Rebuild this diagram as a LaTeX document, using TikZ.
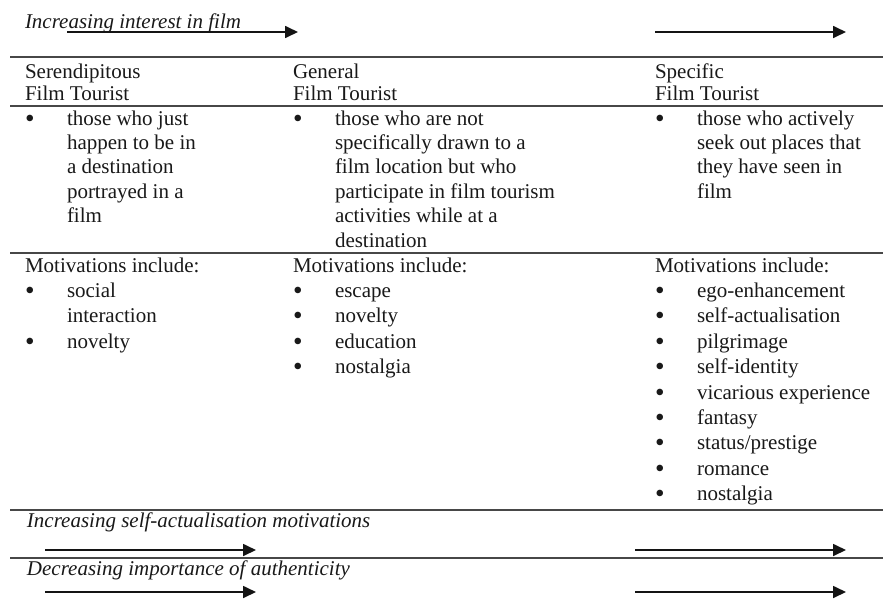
\documentclass[tikz,border=0pt]{standalone}
\usepackage{fontspec}
\usepackage{graphicx}
\setmainfont{Liberation Serif}
\usetikzlibrary{arrows.meta}
\newcommand\bul{\raisebox{-0.1em}{\scalebox{1.3}{\textbullet}}}
\begin{document}
\begin{tikzpicture}[x=1pt,y=-1pt]
\tikzset{
  txt/.style={anchor=base west, inner sep=0pt, outer sep=0pt, text=black!90, font=\fontsize{21}{24.4}\selectfont},
  hdr/.style={txt, font=\fontsize{21}{22}\selectfont},
  lst/.style={txt, font=\fontsize{21}{25.4}\selectfont},
  itl/.style={txt, font=\fontsize{21}{24}\selectfont\itshape},
  rulel/.style={line width=1.8pt, draw=black!72},
  arr/.style={line width=1.7pt, draw=black!92, -{Triangle[length=13pt,width=12pt]}},
}
\useasboundingbox[fill=white] (0,0) rectangle (883,603);

% rules
\coordinate (r1a) at (10,57);  \coordinate (r1b) at (883,57);
\coordinate (r2a) at (10,106); \coordinate (r2b) at (883,106);
\coordinate (r3a) at (10,253); \coordinate (r3b) at (883,253);
\coordinate (r4a) at (10,510); \coordinate (r4b) at (883,510);
\coordinate (r5a) at (10,558); \coordinate (r5b) at (883,558);
\foreach \r in {r1,r2,r3,r4,r5} \draw[rulel] (\r a) -- (\r b);

% top label and arrows
\node[itl] (ttl) at (25,28) {Increasing interest in film};
\coordinate (a1s) at (67,32);  \coordinate (a1e) at (298,32);
\coordinate (a2s) at (655,32); \coordinate (a2e) at (846,32);
\draw[arr] (a1s) -- (a1e);
\draw[arr] (a2s) -- (a2e);

% headers
\node[hdr] (h1) at (25,78)  {\begin{tabular}[t]{@{}l@{}}Serendipitous\\Film Tourist\end{tabular}};
\node[hdr] (h2) at (293,78) {\begin{tabular}[t]{@{}l@{}}General\\Film Tourist\end{tabular}};
\node[hdr] (h3) at (655,78) {\begin{tabular}[t]{@{}l@{}}Specific\\Film Tourist\end{tabular}};

% descriptions
\node[txt] (d1) at (25,125) {\begin{tabular}[t]{@{}p{42pt}@{}l@{}}\bul & those who just\\ & happen to be in\\ & a destination\\ & portrayed in a\\ & film\end{tabular}};
\node[txt] (d2) at (293,125) {\begin{tabular}[t]{@{}p{42pt}@{}l@{}}\bul & those who are not\\ & specifically drawn to a\\ & film location but who\\ & participate in film tourism\\ & activities while at a\\ & destination\end{tabular}};
\node[txt] (d3) at (655,125) {\begin{tabular}[t]{@{}p{42pt}@{}l@{}}\bul & those who actively\\ & seek out places that\\ & they have seen in\\ & film\end{tabular}};

% motivations
\node[lst] (m1) at (25,272) {\begin{tabular}[t]{@{}p{42pt}@{}l@{}}\multicolumn{2}{@{}l@{}}{Motivations include:}\\ \bul & social\\ & interaction\\ \bul & novelty\end{tabular}};
\node[lst] (m2) at (293,272) {\begin{tabular}[t]{@{}p{42pt}@{}l@{}}\multicolumn{2}{@{}l@{}}{Motivations include:}\\ \bul & escape\\ \bul & novelty\\ \bul & education\\ \bul & nostalgia\end{tabular}};
\node[lst] (m3) at (655,272) {\begin{tabular}[t]{@{}p{42pt}@{}l@{}}\multicolumn{2}{@{}l@{}}{Motivations include:}\\ \bul & ego-enhancement\\ \bul & self-actualisation\\ \bul & pilgrimage\\ \bul & self-identity\\ \bul & vicarious experience\\ \bul & fantasy\\ \bul & status/prestige\\ \bul & romance\\ \bul & nostalgia\end{tabular}};

% bottom rows
\node[itl] (b1) at (27,527) {Increasing self-actualisation motivations};
\coordinate (a3s) at (45,550);  \coordinate (a3e) at (256,550);
\coordinate (a4s) at (635,550); \coordinate (a4e) at (846,550);
\draw[arr] (a3s) -- (a3e);
\draw[arr] (a4s) -- (a4e);

\node[itl] (b2) at (27,575) {Decreasing importance of authenticity};
\coordinate (a5s) at (45,592);  \coordinate (a5e) at (256,592);
\coordinate (a6s) at (635,592); \coordinate (a6e) at (846,592);
\draw[arr] (a5s) -- (a5e);
\draw[arr] (a6s) -- (a6e);
\end{tikzpicture}
\end{document}
